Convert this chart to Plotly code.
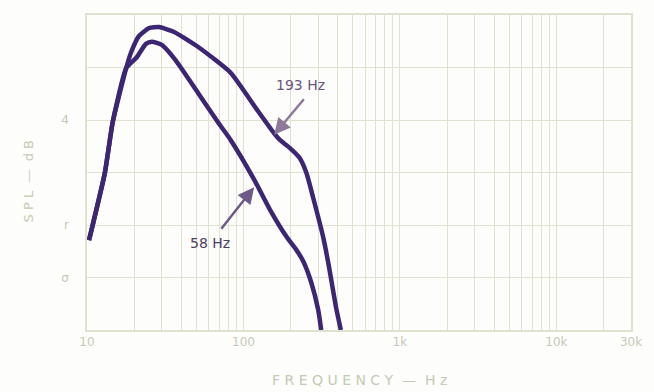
import numpy as np
import plotly.graph_objects as go

# --- data ---
upper_freq = [10.3, 13.0, 14.6, 17.8, 19.2, 21.5, 24.9, 28.8, 35.8, 51.4, 82.8, 122.4, 156.7,
              170.9, 197.5, 228.3, 252.7, 279.6, 323.2, 352.4, 390.0, 419.4]
upper_spl = [1.71, 2.99, 3.96, 4.99, 5.30, 5.60, 5.75, 5.77, 5.68, 5.39, 4.90, 4.19, 3.75,
             3.62, 3.47, 3.28, 2.99, 2.51, 1.77, 1.20, 0.44, 0.0]

lower_freq = [10.3, 13.0, 14.6, 17.8, 20.6, 23.8, 26.0, 30.1, 36.8, 51.4, 68.6, 82.8,
              117.3, 147.9, 189.1, 218.6, 241.9, 271.6, 300.6, 314.1]
lower_spl = [1.71, 2.99, 3.96, 4.99, 5.18, 5.45, 5.49, 5.43, 5.14, 4.51, 3.96, 3.62,
             2.86, 2.29, 1.77, 1.52, 1.30, 0.90, 0.38, 0.0]

x_grid = [10, 20, 30, 40, 50, 60, 70, 80, 90,
          100, 200, 300, 400, 500, 600, 700, 800, 900,
          1000, 2000, 3000, 4000, 5000, 6000, 7000, 8000, 9000,
          10000, 20000, 30000]
x_labels = {10: "10", 100: "100", 1000: "1k", 10000: "10k", 30000: "30k"}
y_grid = [0, 1, 2, 3, 4, 5, 6]
y_labels = {1: "σ", 2: "r", 4: "4"}

GRID = "#e0e2d0"
TXT = "#c6c9b4"
CURVE = "#3c2673"

fig = go.Figure()
fig.add_trace(go.Scatter(x=upper_freq, y=upper_spl, mode="lines",
                         line=dict(color=CURVE, width=4.5, shape="spline", smoothing=0.5),
                         showlegend=False, hoverinfo="skip"))
fig.add_trace(go.Scatter(x=lower_freq, y=lower_spl, mode="lines",
                         line=dict(color=CURVE, width=4.5, shape="spline", smoothing=0.5),
                         showlegend=False, hoverinfo="skip"))

fig.update_xaxes(type="log", range=[1, np.log10(30000)],
                 tickvals=x_grid, ticktext=[x_labels.get(v, "") for v in x_grid],
                 showgrid=True, gridcolor=GRID, gridwidth=1.3,
                 showline=True, linecolor=GRID, linewidth=1.5, mirror=True,
                 zeroline=False, ticks="",
                 tickfont=dict(family="DejaVu Sans", size=12, color=TXT))
fig.update_yaxes(range=[0, 6],
                 tickvals=y_grid, ticktext=[y_labels.get(v, "") for v in y_grid],
                 showgrid=True, gridcolor=GRID, gridwidth=1.3,
                 showline=True, linecolor=GRID, linewidth=1.5, mirror=True,
                 zeroline=False, ticks="", ticklabelstandoff=14,
                 tickfont=dict(family="DejaVu Sans", size=12, color=TXT))

# arrows + labels
fig.add_annotation(x=np.log10(157), y=3.72, ax=31, ay=-37, showarrow=True,
                   arrowhead=2, arrowsize=1.3, arrowwidth=2.5, arrowcolor="#8e7a98", text="")
fig.add_annotation(x=np.log10(232), y=4.67, text="193 Hz", showarrow=False,
                   font=dict(family="DejaVu Sans", size=14, color="#6b5580"))
fig.add_annotation(x=np.log10(117), y=2.72, ax=-34, ay=43, showarrow=True,
                   arrowhead=2, arrowsize=1.3, arrowwidth=2.5, arrowcolor="#6e5a88", text="")
fig.add_annotation(x=np.log10(61), y=1.65, text="58 Hz", showarrow=False,
                   font=dict(family="DejaVu Sans", size=14, color="#4e4060"))

# axis titles
fig.add_annotation(xref="paper", yref="paper", x=0.5, y=-0.16, yanchor="middle",
                   text="F R E Q U E N C Y  —  H z", showarrow=False,
                   font=dict(family="DejaVu Sans", size=14, color=TXT))
fig.add_annotation(xref="paper", yref="paper", x=-0.125, y=0.47, textangle=-90,
                   text="S P L  —  d B", showarrow=False,
                   font=dict(family="DejaVu Sans", size=13, color=TXT))

fig.update_layout(width=654, height=392,
                  margin=dict(l=87, r=14, t=15, b=62),
                  paper_bgcolor="#fdfdfb", plot_bgcolor="#fdfdfb")

fig.write_html("out.html")
